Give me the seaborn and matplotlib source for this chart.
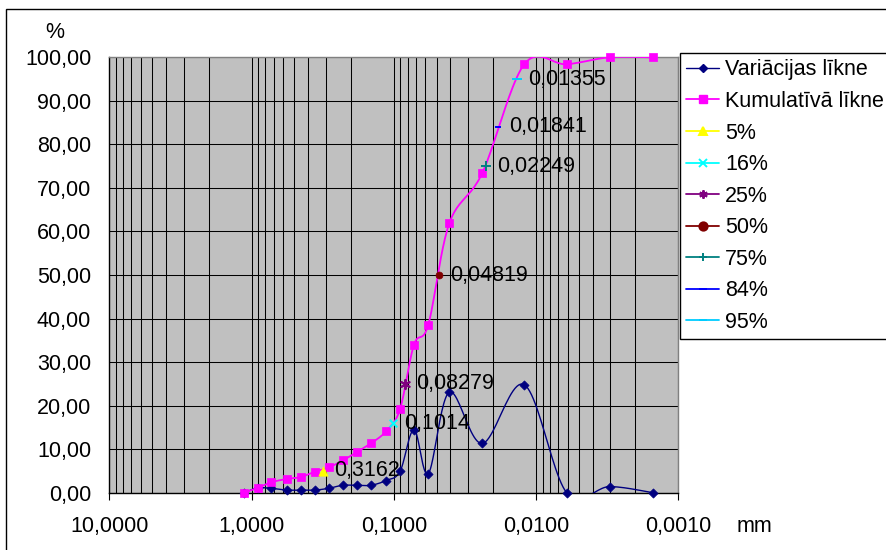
import numpy as np
import matplotlib
matplotlib.use("Agg")
import matplotlib.pyplot as plt
import seaborn as sns
from matplotlib.lines import Line2D
from matplotlib.patches import Rectangle
from matplotlib.ticker import FixedLocator, FuncFormatter, NullFormatter

# grain size (mm) and percentages
diameter = [1.125, 0.905, 0.7265, 0.566, 0.451, 0.360, 0.2868, 0.2286, 0.1823, 0.1453,
            0.1134, 0.0904, 0.0721, 0.0572, 0.0407, 0.0239, 0.0121, 0.00609, 0.00304, 0.00151]
variation = [0, 1.1, 1.0, 0.6, 0.6, 0.6, 1.0, 1.7, 1.7, 1.7,
             2.8, 4.9, 14.5, 4.4, 23.1, 11.3, 24.8, 0, 1.4, 0]
cumulative = [0, 1.1, 2.4, 3.15, 3.6, 4.8, 5.8, 7.4, 9.3, 11.3,
              14.1, 19.2, 34.0, 38.6, 61.9, 73.4, 98.4, 98.4, 100, 100]

pct_labels = ["5%", "16%", "25%", "50%", "75%", "84%", "95%"]
pct_values = [5, 16, 25, 50, 75, 84, 95]
pct_diameter = [0.3162, 0.1014, 0.08279, 0.04819, 0.02249, 0.01841, 0.01355]

NAVY = "#000080"
MAGENTA = "#FF00FF"
pct_colors = ["#FFFF00", "#00FFFF", "#800080", "#800000", "#008080", "#0000FF", "#00CCFF"]
pct_markers = ["^", "x", (6, 2, 0), "o", "+", "_", "_"]
pct_sizes = [45, 30, 45, 25, 45, 25, 50]

FS = 15.5


def smooth(xs, ys, n=24):
    # Excel-like smoothed line: Catmull-Rom as cubic Bezier, in log-x space
    u = np.log10(np.asarray(xs, float))
    v = np.asarray(ys, float)
    pu = np.concatenate([[u[0]], u, [u[-1]]])
    pv = np.concatenate([[v[0]], v, [v[-1]]])
    t = np.linspace(0, 1, n)[:, None]
    out = []
    for i in range(1, len(pu) - 2):
        p0 = np.array([pu[i - 1], pv[i - 1]])
        p1 = np.array([pu[i], pv[i]])
        p2 = np.array([pu[i + 1], pv[i + 1]])
        p3 = np.array([pu[i + 2], pv[i + 2]])
        c1 = p1 + (p2 - p0) / 6
        c2 = p2 - (p3 - p1) / 6
        seg = ((1 - t) ** 3) * p1 + 3 * ((1 - t) ** 2) * t * c1 + 3 * (1 - t) * t ** 2 * c2 + t ** 3 * p2
        out.append(seg if i == 1 else seg[1:])
    out = np.vstack(out)
    return 10 ** out[:, 0], out[:, 1]


sns.set_theme(style="white")
plt.rcParams["font.family"] = ["Liberation Sans", "DejaVu Sans"]
plt.rcParams["text.color"] = "black"
plt.rcParams["xtick.color"] = "black"
plt.rcParams["ytick.color"] = "black"
plt.rcParams["axes.labelcolor"] = "black"

fig = plt.figure(figsize=(8.87, 5.5), dpi=100)
ax = fig.add_axes([109.3 / 887, 1 - 492.7 / 550, (678.3 - 109.3) / 887, (492.7 - 57.3) / 550])
ax.set_facecolor("#C0C0C0")
ax.set_xscale("log")
ax.set_xlim(10, 0.001)
ax.set_ylim(0, 100)

# curves
sx, sy = smooth(diameter, variation)
sns.lineplot(x=sx, y=sy, ax=ax, color=NAVY, lw=1.0, sort=False, estimator=None, zorder=3)
sns.scatterplot(x=diameter, y=variation, ax=ax, marker="D", s=22, color=NAVY,
                edgecolor=NAVY, linewidth=0.5, zorder=4, clip_on=False)

sx, sy = smooth(diameter, cumulative)
sns.lineplot(x=sx, y=sy, ax=ax, color=MAGENTA, lw=1.3, sort=False, estimator=None, zorder=5)
sns.scatterplot(x=diameter, y=cumulative, ax=ax, marker="s", s=34, color=MAGENTA,
                edgecolor=MAGENTA, linewidth=0.5, zorder=6, clip_on=False)

for d, p, c, m, s in zip(pct_diameter, pct_values, pct_colors, pct_markers, pct_sizes):
    filled = m in ("^", "o")
    sns.scatterplot(x=[d], y=[p], ax=ax, marker=m, s=s, color=c,
                    edgecolor=c if filled else None, linewidth=1.4 if not filled else 0.5,
                    zorder=7, clip_on=False)
    ax.annotate(f"{d}".replace(".", ","), xy=(d, p), xytext=(8, 0),
                textcoords="offset points", ha="left", va="center", fontsize=FS,
                color="black", zorder=8)

# axes, ticks, grid
ax.xaxis.set_major_locator(FixedLocator([10, 1, 0.1, 0.01, 0.001]))
ax.xaxis.set_major_formatter(FuncFormatter(lambda v, _: f"{v:.4f}".replace(".", ",")))
ax.xaxis.set_minor_formatter(NullFormatter())
ax.set_yticks(np.arange(0, 101, 10))
ax.yaxis.set_major_formatter(FuncFormatter(lambda v, _: f"{v:.2f}".replace(".", ",")))
ax.tick_params(axis="x", which="major", direction="out", length=5, width=0.8,
               color="black", labelcolor="black", pad=12, labelsize=FS, bottom=True)
ax.tick_params(axis="x", which="minor", length=0)
ax.tick_params(axis="y", length=0, pad=13, labelsize=FS, labelcolor="black")
ax.grid(True, which="both", axis="x", color="black", lw=0.75)
ax.grid(True, which="major", axis="y", color="black", lw=0.75)
ax.set_axisbelow(True)
for side in ("left", "bottom"):
    ax.spines[side].set_color("black")
    ax.spines[side].set_linewidth(1.0)
for side in ("top", "right"):
    ax.spines[side].set_color("#808080")
    ax.spines[side].set_linewidth(1.0)

fig.text(55 / 887, 1 - 32 / 550, "%", ha="center", va="center", fontsize=FS, color="black")
fig.text(754 / 887, 1 - 527 / 550, "mm", ha="center", va="center", fontsize=FS, color="black")

# legend
handles = [Line2D([], [], color=NAVY, lw=1.0, marker="D", ms=4.5, mec=NAVY),
           Line2D([], [], color=MAGENTA, lw=1.3, marker="s", ms=5.5, mec=MAGENTA)]
for c, m in zip(pct_colors, pct_markers):
    handles.append(Line2D([], [], color=c, lw=1.3, marker=m, ms=6, mec=c, mew=1.4))
labels = ["Variācijas līkne", "Kumulatīvā līkne"] + pct_labels
leg = fig.legend(handles, labels, loc="upper left", bbox_to_anchor=(680 / 887, 1 - 53 / 550),
                 frameon=True, fancybox=False, edgecolor="black", framealpha=1,
                 fontsize=FS, handlelength=1.5, handletextpad=0.3, labelspacing=0.49,
                 borderpad=0.3, borderaxespad=0)
leg.get_frame().set_linewidth(1.0)
for txt in leg.get_texts():
    txt.set_color("black")

# chart border
fig.patches.append(Rectangle((6 / 887, -0.05), 1.1, 0.05 + (1 - 9 / 550), transform=fig.transFigure,
                             fill=False, edgecolor="black", lw=1.0))

fig.savefig("out.png", dpi=100)
